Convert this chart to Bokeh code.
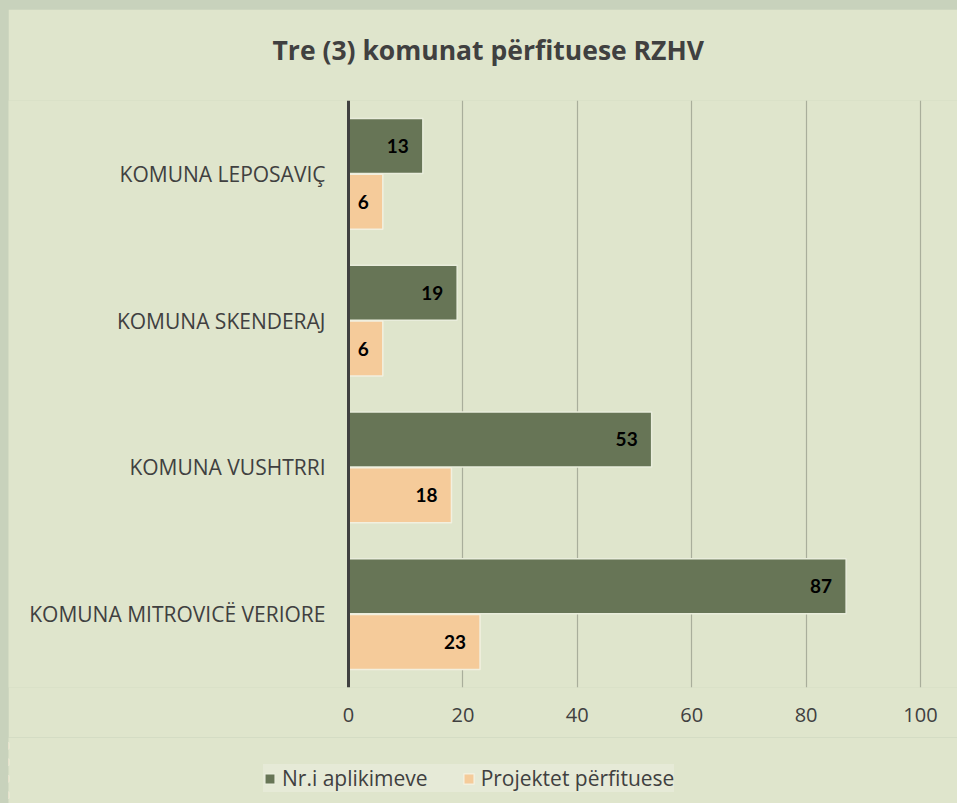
from bokeh.plotting import figure
from bokeh.layouts import column
from bokeh.models import FactorRange, Legend, LegendItem, FixedTicker, ColumnDataSource, Title, Span
from bokeh.transform import dodge
from bokeh.embed import file_html
from bokeh.resources import INLINE

# ---- data ----
categories = ["KOMUNA MITROVICË VERIORE", "KOMUNA VUSHTRRI", "KOMUNA SKENDERAJ", "KOMUNA LEPOSAVIÇ"]
aplikime = [87, 53, 19, 13]
projektet = [23, 18, 6, 6]
series_names = ["Nr.i aplikimeve", "Projektet përfituese"]
x_ticks = [0, 20, 40, 60, 80, 100]
grid_ticks = [20, 40, 60, 80, 100]
title_text = "Tre (3) komunat përfituese RZHV"

BG = "#dfe5cc"
DARK = "#677556"
ORANGE = "#f5cb9a"
TXT = "#404040"

src = ColumnDataSource(dict(
    cat=categories,
    a=aplikime,
    p=projektet,
    a_lbl=[str(v) for v in aplikime],
    p_lbl=[str(v) for v in projektet],
))

FW, FH = 949, 587                    # frame size in px
ZERO_PX, HUNDRED_PX = 340, 912       # pixel positions of 0 and 100 inside the frame
ppu = (HUNDRED_PX - ZERO_PX) / 100.0
x_start = -ZERO_PX / ppu
x_end = 100 + (FW - HUNDRED_PX) / ppu

p = figure(frame_width=FW, frame_height=FH, y_range=FactorRange(*categories, range_padding=0),
           x_range=(x_start, x_end), output_backend="svg", toolbar_location=None,
           y_axis_location=None,
           min_border_left=0, min_border_right=0, min_border_top=91, min_border_bottom=50)
p.background_fill_color = BG
p.border_fill_color = BG
p.outline_line_color = None

# grid
p.ygrid.grid_line_color = None
p.xgrid.ticker = FixedTicker(ticks=grid_ticks)
p.xgrid.grid_line_color = "#a9ae9b"
p.xgrid.grid_line_width = 1.2

bar_kw1 = dict(fill_color=DARK, line_color="#e9eddc", line_width=1.5)
bar_kw2 = dict(fill_color=ORANGE, line_color="#f2f0df", line_width=1.5)

r1 = p.hbar(y=dodge("cat", 0.19, range=p.y_range), right="a", left=0, height=0.375, source=src, **bar_kw1)
r2 = p.hbar(y=dodge("cat", -0.19, range=p.y_range), right="p", left=0, height=0.375, source=src, **bar_kw2)

lbl_font = "Lato"
p.text(x="a", y=dodge("cat", 0.19, range=p.y_range), text="a_lbl", source=src,
       text_align="right", text_baseline="middle", x_offset=-14,
       text_font_size="19px", text_font_style="bold", text_color="black",
       text_font={"value": lbl_font})
p.text(x="p", y=dodge("cat", -0.19, range=p.y_range), text="p_lbl", source=src,
       text_align="right", text_baseline="middle", x_offset=-14,
       text_font_size="19px", text_font_style="bold", text_color="black",
       text_font={"value": lbl_font})

# category labels (left of the value axis)
p.text(x=0, y="cat", text="cat", source=src, x_offset=-23,
       text_align="right", text_baseline="middle", text_font={"value": "Open Sans"},
       text_font_size="21px", text_color=TXT)

# vertical value axis line at 0
p.add_layout(Span(location=0, dimension="height", line_color="#404040", line_width=3))

# x axis
p.xaxis.ticker = FixedTicker(ticks=x_ticks)
p.xaxis.axis_line_color = None
p.xaxis.major_tick_line_color = None
p.xaxis.minor_tick_line_color = None
p.xaxis.major_label_standoff = 14
p.xaxis.major_label_text_font = "Open Sans"
p.xaxis.major_label_text_font_size = "20px"
p.xaxis.major_label_text_color = TXT

# spacer between frame and title, then the title
p.add_layout(Title(text=" ", text_font_size="1px", standoff=30), "above")
p.add_layout(Title(text=title_text, align="left", offset=264, standoff=0,
                   text_font="Open Sans", text_font_size="26.5px", text_font_style="bold",
                   text_color=TXT), "above")

# ---- legend strip (separate canvas under the chart) ----
# its x range lies beyond the data, so its bars stay out of view and only the legend shows
leg = figure(frame_width=FW, frame_height=66, output_backend="svg", toolbar_location=None,
             x_axis_type=None, y_axis_type=None, min_border=0,
             x_range=(200, 300), y_range=FactorRange(*categories))
leg.background_fill_color = BG
leg.border_fill_color = BG
leg.outline_line_color = None
leg.grid.visible = False
l1 = leg.hbar(y="cat", right="a", left=0, height=0.375, source=src, **bar_kw1)
l2 = leg.hbar(y="cat", right="p", left=0, height=0.375, source=src, **bar_kw2)

legend = Legend(items=[LegendItem(label=series_names[0], renderers=[l1]),
                       LegendItem(label=series_names[1], renderers=[l2])],
                location=(255, 11), orientation="horizontal",
                background_fill_color="#e6ead7", background_fill_alpha=1,
                border_line_color=None, glyph_width=13, glyph_height=13,
                label_standoff=6, spacing=34, padding=12, margin=0,
                label_text_font="Open Sans", label_text_font_size="21px",
                label_text_color=TXT)
leg.add_layout(legend, "center")

layout = column(p, leg, spacing=0)

html = file_html(layout, INLINE)
html = html.replace("</head>", "<style>html,body{background:#c8d2bc !important;margin:0 !important;overflow:hidden !important;}body{padding:9px 0 0 8px !important;}</style></head>", 1)
open("out.html", "w").write(html)
